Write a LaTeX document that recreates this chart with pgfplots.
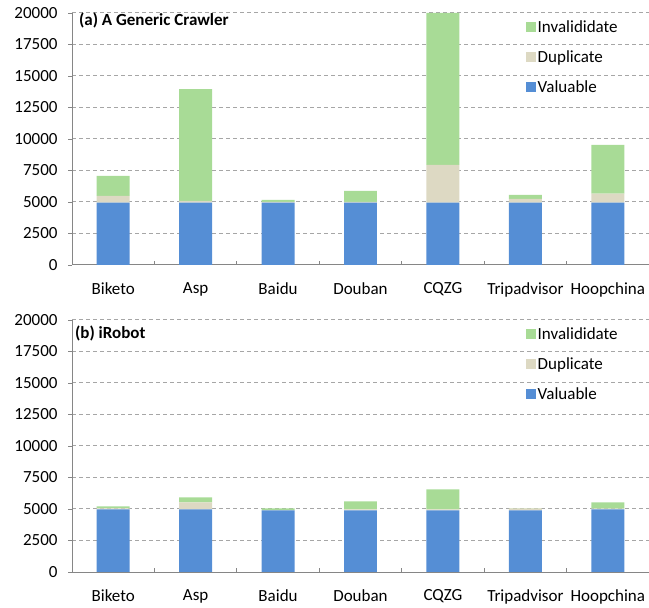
\documentclass[border=0pt]{standalone}
\usepackage{pgfplots}
\pgfplotsset{compat=1.18}
\usepackage{fontspec}
\setmainfont{Carlito}
\definecolor{valC}{HTML}{558ED5}
\definecolor{dupC}{HTML}{DDD9C3}
\definecolor{invC}{HTML}{A8DB96}
\definecolor{axC}{HTML}{868686}
\definecolor{grC}{HTML}{A6A6A6}
\newcommand{\chfont}{\fontsize{17bp}{20bp}\selectfont}
\pgfplotsset{
  panel/.style={
    scale only axis, width=577bp, height=252bp,
    anchor=south west,
    ybar stacked, bar width=0.4,
    xmin=-0.5, xmax=6.5, ymin=0, ymax=20000,
    ytick={0,2500,...,20000},
    scaled y ticks=false,
    yticklabel={\pgfmathprintnumber[fixed,precision=0,1000 sep={}]{\tick}},
    xtick={0,...,6},
    xticklabels={Biketo,Asp,Baidu,Douban,CQZG,Tripadvisor,Hoopchina},
    minor xtick={0.5,1.5,...,5.5},
    axis x line=bottom, axis y line=left,
    axis line style={draw=axC, line width=1bp, -},
    tick align=outside,
    major tick length=4bp,
    xtick style={draw=none},
    ytick style={draw=axC, line width=0.8bp},
    minor x tick style={draw=axC, line width=0.8bp, yshift=4bp},
    minor tick length=4bp,
    ymajorgrids,
    major grid style={draw=grC, line width=1bp, dash pattern=on 4bp off 3bp},
    /pgf/number format/1000 sep={},
    /pgf/number format/assume math mode=true,
    yticklabel style={xshift=-7bp},
    xticklabel style={yshift=-12bp, inner sep=1bp},
    font=\chfont,
    tick label style={font=\chfont},
    legend style={at={(rel axis cs:0.786,0.978)}, anchor=north west, draw=none, fill=none,
      inner sep=0pt, row sep=12.5bp, cells={anchor=west}, font=\chfont},
    reverse legend,
  },
}
\begin{document}
\begin{tikzpicture}
\useasboundingbox (0,0) rectangle (649bp,608bp);
% top panel
\begin{axis}[panel, at={(72bp,343bp)}]
\addplot[fill=valC, draw=none, legend image code/.code={\fill[valC] (-2bp,-5bp) rectangle (8bp,5bp);}]
  coordinates {(0,4950) (1,4950) (2,4950) (3,4950) (4,4950) (5,4950) (6,4950)};
\addplot[fill=dupC, draw=none, legend image code/.code={\fill[dupC] (-2bp,-5bp) rectangle (8bp,5bp);}]
  coordinates {(0,530) (1,140) (2,50) (3,60) (4,3000) (5,290) (6,710)};
\addplot[fill=invC, draw=none, legend image code/.code={\fill[invC] (-2bp,-5bp) rectangle (8bp,5bp);}]
  coordinates {(0,1590) (1,8860) (2,170) (3,870) (4,12050) (5,320) (6,3870)};
\legend{Valuable,Duplicate,Invalididate}
\node[anchor=west, inner sep=0pt, font=\chfont\bfseries] at (rel axis cs:0.012,0.972) {(a) A Generic Crawler};
\end{axis}
% bottom panel
\begin{axis}[panel, at={(72bp,36bp)}]
\addplot[fill=valC, draw=none, legend image code/.code={\fill[valC] (-2bp,-5bp) rectangle (8bp,5bp);}]
  coordinates {(0,4975) (1,4975) (2,4900) (3,4900) (4,4900) (5,4900) (6,4975)};
\addplot[fill=dupC, draw=none, legend image code/.code={\fill[dupC] (-2bp,-5bp) rectangle (8bp,5bp);}]
  coordinates {(0,75) (1,555) (2,20) (3,80) (4,80) (5,150) (6,55)};
\addplot[fill=invC, draw=none, legend image code/.code={\fill[invC] (-2bp,-5bp) rectangle (8bp,5bp);}]
  coordinates {(0,160) (1,400) (2,130) (3,630) (4,1580) (5,10) (6,500)};
\legend{Valuable,Duplicate,Invalididate}
\node[anchor=west, inner sep=0pt, font=\chfont\bfseries] at (rel axis cs:0.005,0.948) {(b) iRobot};
\end{axis}
\end{tikzpicture}
\end{document}
